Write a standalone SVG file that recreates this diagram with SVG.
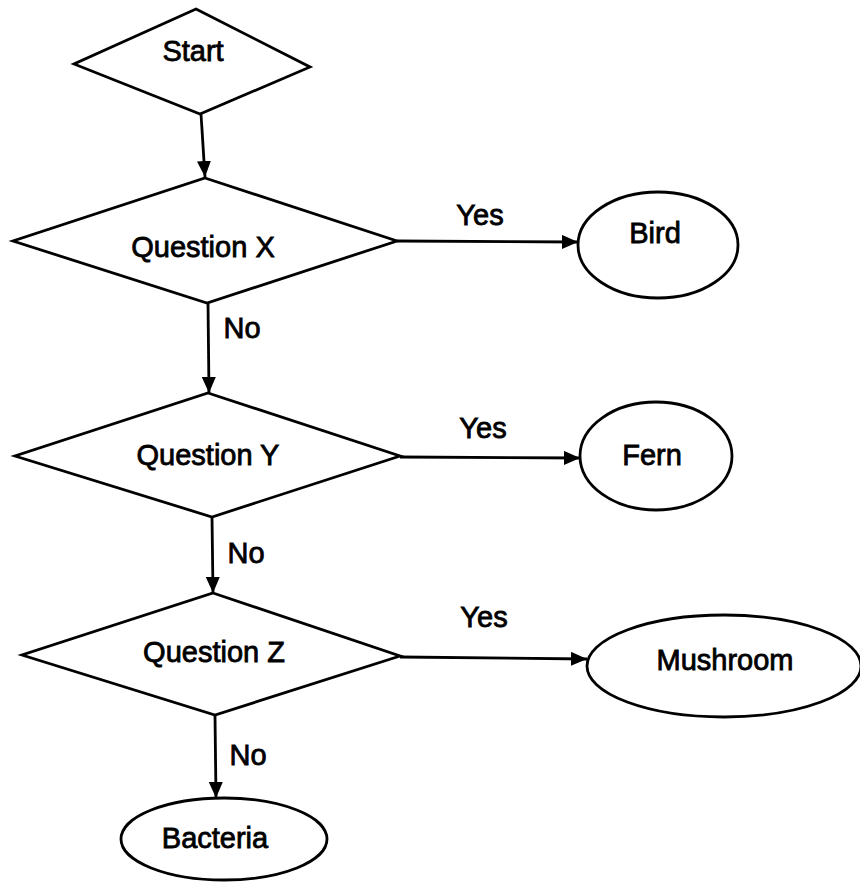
<svg xmlns="http://www.w3.org/2000/svg" width="860" height="885" viewBox="0 0 860 885">
<style>
.shape{fill:#fff;stroke:#000;stroke-width:2.8;stroke-linejoin:miter}
.lbl{font-family:"Liberation Sans",Arial,sans-serif;font-size:29px;fill:#000;stroke:#000;stroke-width:0.8;text-anchor:middle}
.conn{stroke:#000;stroke-width:2.8;fill:none;marker-end:url(#ah)}
</style>
<defs>
<marker id="ah" viewBox="0 0 16 14" refX="16" refY="7" markerWidth="16" markerHeight="14" markerUnits="userSpaceOnUse" orient="auto">
<path d="M0,0 L16,7 L0,14 Z" fill="#000"/>
</marker>
</defs>
<rect width="860" height="885" fill="#fff"/>
<g id="connectors">
<line class="conn" x1="201" y1="114" x2="205" y2="177"/>
<line class="conn" x1="208" y1="303" x2="209" y2="393"/>
<line class="conn" x1="212" y1="517" x2="213" y2="593"/>
<line class="conn" x1="215" y1="715" x2="216" y2="798"/>
<line class="conn" x1="397" y1="241" x2="578" y2="242"/>
<line class="conn" x1="400" y1="457" x2="580" y2="458"/>
<line class="conn" x1="400" y1="657" x2="587" y2="659"/>
<text class="lbl" x="480" y="225">Yes</text>
<text class="lbl" x="483" y="438">Yes</text>
<text class="lbl" x="484" y="627">Yes</text>
<text class="lbl" x="242" y="338">No</text>
<text class="lbl" x="246" y="563">No</text>
<text class="lbl" x="248" y="765">No</text>
</g>
<g id="start">
<polygon class="shape" points="196,9 310,67 200,114 74,64"/>
<text class="lbl" x="193" y="61">Start</text>
</g>
<g id="questionX">
<polygon class="shape" points="205,178 397,241 207,303 13,241"/>
<text class="lbl" x="203" y="257">Question X</text>
</g>
<g id="bird">
<ellipse class="shape" cx="658" cy="245" rx="80" ry="53"/>
<text class="lbl" x="655" y="243">Bird</text>
</g>
<g id="questionY">
<polygon class="shape" points="208,393 400,456 212,517 15,456"/>
<text class="lbl" x="208" y="465">Question Y</text>
</g>
<g id="fern">
<ellipse class="shape" cx="656" cy="456" rx="76" ry="54"/>
<text class="lbl" x="652" y="465">Fern</text>
</g>
<g id="questionZ">
<polygon class="shape" points="213,593 400,656 215,715 22,655"/>
<text class="lbl" x="214" y="662">Question Z</text>
</g>
<g id="mushroom">
<ellipse class="shape" cx="724" cy="666" rx="137" ry="51"/>
<text class="lbl" x="725" y="670">Mushroom</text>
</g>
<g id="bacteria">
<ellipse class="shape" cx="224" cy="839" rx="103" ry="41"/>
<text class="lbl" x="215" y="848">Bacteria</text>
</g>
</svg>
